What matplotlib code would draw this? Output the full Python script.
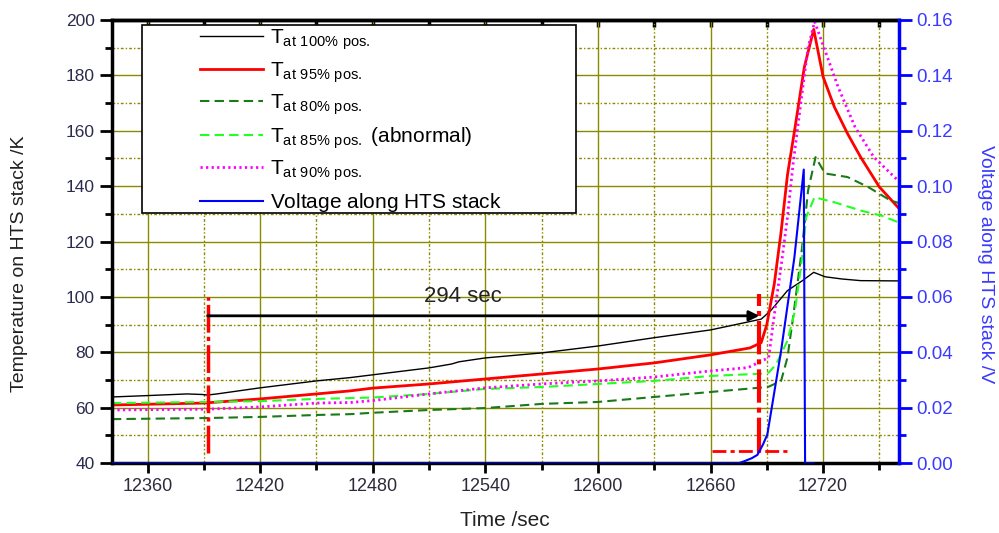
import matplotlib
matplotlib.use("Agg")
from matplotlib import pyplot as plt
from matplotlib.patches import Rectangle
from matplotlib.ticker import MultipleLocator

plt.rcParams['font.family'] = ['Liberation Sans', 'DejaVu Sans']
plt.rcParams['mathtext.fontset'] = 'custom'
plt.rcParams['mathtext.rm'] = 'Liberation Sans'

# T at 100% pos.
t_100 = [12341, 12360, 12381, 12389, 12392, 12397, 12420, 12450, 12468, 12480, 12510, 12522,
         12526, 12540, 12570, 12600, 12630, 12660, 12687, 12692, 12701, 12709, 12715, 12721,
         12730, 12740, 12760]
T_100 = [63.9, 64.4, 65.0, 64.8, 64.6, 65.0, 67.2, 69.7, 70.9, 71.9, 74.4, 75.8,
         76.6, 78.0, 79.8, 82.3, 85.3, 88.1, 92.0, 95.0, 102.3, 105.9, 108.9, 107.3,
         106.5, 105.9, 105.8]

# T at 95% pos.
t_95 = [12341, 12390, 12420, 12450, 12468, 12480, 12510, 12540, 12570, 12600, 12630, 12660,
        12681, 12687, 12690, 12694, 12697.5, 12701, 12705, 12710, 12715, 12720, 12726, 12733,
        12740, 12750, 12760]
T_95 = [61.0, 61.7, 63.2, 65.0, 66.1, 67.1, 68.6, 70.4, 72.2, 74.0, 76.2, 79.1,
        81.6, 83.5, 90.0, 104.8, 122.9, 144.0, 161.0, 183.0, 196.6, 179.5, 168.6, 159.0,
        150.5, 139.7, 132.3]

# T at 80% pos.
t_80 = [12341, 12392, 12420, 12450, 12468, 12480, 12510, 12540, 12570, 12600, 12630, 12660,
        12687, 12691, 12697.6, 12701, 12704, 12708.6, 12712, 12716, 12721, 12733, 12744,
        12756, 12760]
T_80 = [55.9, 56.3, 56.7, 57.4, 57.7, 58.2, 59.2, 59.9, 61.4, 62.1, 63.9, 65.7,
        67.3, 67.6, 69.7, 78.1, 92.6, 116.7, 138.5, 150.5, 144.6, 143.3, 139.7,
        134.8, 134.0]

# T at 85% pos. (abnormal)
t_85 = [12341, 12392, 12420, 12450, 12468, 12480, 12510, 12540, 12570, 12600, 12630, 12660,
        12687, 12691, 12695, 12701, 12705, 12708.6, 12711, 12715.4, 12726, 12740, 12751, 12760]
T_85 = [61.7, 62.1, 62.4, 63.2, 63.5, 63.7, 65.0, 66.8, 67.5, 68.6, 69.7, 71.5,
        72.3, 72.7, 75.7, 84.2, 95.0, 113.0, 128.8, 136.0, 134.2, 131.2, 129.4, 127.0]

# T at 90% pos.
t_90 = [12341, 12392, 12420, 12450, 12468, 12480, 12510, 12540, 12570, 12600, 12630, 12660,
        12680, 12691, 12695, 12698, 12701, 12704, 12709, 12712, 12715.5, 12721, 12728, 12737,
        12747, 12760]
T_90 = [59.2, 59.5, 60.3, 61.7, 61.9, 62.6, 65.0, 67.2, 68.6, 69.7, 71.1, 73.3,
        74.5, 78.1, 98.6, 113.0, 128.8, 148.0, 174.7, 190.0, 199.4, 189.0, 175.8, 161.4,
        150.5, 142.0]

# voltage along HTS stack
t_v = [12341, 12675, 12678, 12682, 12685, 12688, 12690.3, 12697.6, 12704.7, 12709.7, 12710.4, 12715]
V = [0.0, 0.0, 0.0007, 0.0018, 0.003, 0.0068, 0.0104, 0.0405, 0.0743, 0.106, 0.0, 0.0]

# markers for the 294 sec interval
t_start = 12392
t_end = 12686
T_arrow = 93.2

fig = plt.figure(figsize=(9.99, 5.33), dpi=100)
ax = fig.add_axes([0.112, 0.131, 0.788, 0.8315])
ax2 = ax.twinx()

olive = '#8a8a00'
ax.xaxis.set_major_locator(MultipleLocator(60))
ax.xaxis.set_minor_locator(MultipleLocator(30))
ax.yaxis.set_major_locator(MultipleLocator(20))
ax.yaxis.set_minor_locator(MultipleLocator(10))
ax.grid(which='major', color=olive, lw=1.0, ls='-')
ax.grid(which='minor', color=olive, lw=1.0, ls=(0, (2, 1.5, 1, 1.5)))
ax.set_axisbelow(True)

ax.plot(t_100, T_100, color='black', lw=1.0)
ax.plot(t_95, T_95, color='#ff0000', lw=2.0)
ax.plot(t_80, T_80, color='#1a7a1a', lw=1.5, dashes=(4.5, 2.5))
ax.plot(t_85, T_85, color='#22ff22', lw=1.5, dashes=(4.5, 2.5))
ax.plot(t_90, T_90, color='#ff00ff', lw=2.0, dashes=(0.8, 1.2))
ax2.plot(t_v, V, color='#0000ff', lw=1.5)

# interval markers
dashdot = (0, (8, 1.2, 1.2, 1.2))
ax.plot([t_start, t_start], [43.5, 100], color='red', lw=2.5, ls=dashdot)
ax.plot([t_end, t_end], [44.3, 101], color='red', lw=3, ls=dashdot)
ax.plot([12661, 12701], [44.3, 44.3], color='red', lw=2, ls=(0, (5, 1.5, 1.5, 1.5)))
ax.annotate('', xy=(t_end, T_arrow), xytext=(t_start, T_arrow),
            arrowprops=dict(arrowstyle='-|>', color='black', lw=2, mutation_scale=15,
                            shrinkA=0, shrinkB=0))
ax.text(12528, 100, '294 sec', fontsize=16, ha='center', va='center', color='#222222')

ax.set_xlim(12341, 12760.5)
ax.set_ylim(40, 200)
ax2.set_ylim(0, 0.16)
ax2.yaxis.set_major_locator(MultipleLocator(0.02))
ax2.yaxis.set_minor_locator(MultipleLocator(0.01))
ax2.yaxis.set_major_formatter(lambda v, p: f'{v:.2f}')

for s in ['left', 'bottom', 'top']:
    ax.spines[s].set_linewidth(2.5)
for s in ['left', 'bottom', 'top']:
    ax2.spines[s].set_visible(False)
ax.spines['right'].set_visible(False)
ax2.spines['right'].set_color('#0000ff')
ax2.spines['right'].set_linewidth(2.5)

ax.tick_params(axis='x', which='major', direction='out', length=7, width=2, labelsize=13,
               labelcolor='#2b2b3b')
ax.tick_params(axis='x', which='minor', direction='out', length=5, width=2)
ax.tick_params(axis='y', which='major', direction='out', length=9, width=2, labelsize=12.5,
               labelcolor='#2b2b50')
ax.tick_params(axis='y', which='minor', direction='out', length=5, width=2)
ax2.tick_params(axis='y', which='major', direction='out', length=9, width=2, colors='#0000ff',
                labelsize=13.5, labelcolor='#3a3aff')
ax2.tick_params(axis='y', which='minor', direction='out', length=5, width=2, colors='#0000ff')

# inward ticks along the top edge
top = ax.secondary_xaxis('top')
top.xaxis.set_major_locator(MultipleLocator(30))
top.tick_params(axis='x', which='both', direction='in', length=5, width=2.5, labeltop=False)
top.spines['top'].set_linewidth(2.5)

fig.text(0.505, 0.024, 'Time /sec', fontsize=15, ha='center', va='center', color='#222222')
fig.text(0.020, 0.505, 'Temperature on HTS stack /K', fontsize=14, rotation=90,
         ha='center', va='center', color='#222222')
fig.text(0.986, 0.505, 'Voltage along HTS stack /V', fontsize=14, rotation=270,
         ha='center', va='center', color='#3a3aff')

# legend box
box = Rectangle((0.038, 0.564), 0.552, 0.425, transform=ax2.transAxes, facecolor='white',
                edgecolor='black', lw=1.2, zorder=5)
ax2.add_patch(box)
labels = [r'T$_{\mathrm{at\ 100\%\ pos.}}$',
          r'T$_{\mathrm{at\ 95\%\ pos.}}$',
          r'T$_{\mathrm{at\ 80\%\ pos.}}$',
          r'T$_{\mathrm{at\ 85\%\ pos.}}$ (abnormal)',
          r'T$_{\mathrm{at\ 90\%\ pos.}}$',
          r'Voltage along HTS stack$_{\mathrm{\ }}$']
handles = ax.get_lines()[:5] + ax2.get_lines()[:1]
leg = ax2.legend(handles, labels, loc='upper left', bbox_to_anchor=(0.112, 0.983),
                 frameon=False, fontsize=15, handlelength=3.0, handletextpad=0.35,
                 labelspacing=0.37, borderpad=0, borderaxespad=0)
leg.set_zorder(6)

plt.savefig('out.png', dpi=100)
